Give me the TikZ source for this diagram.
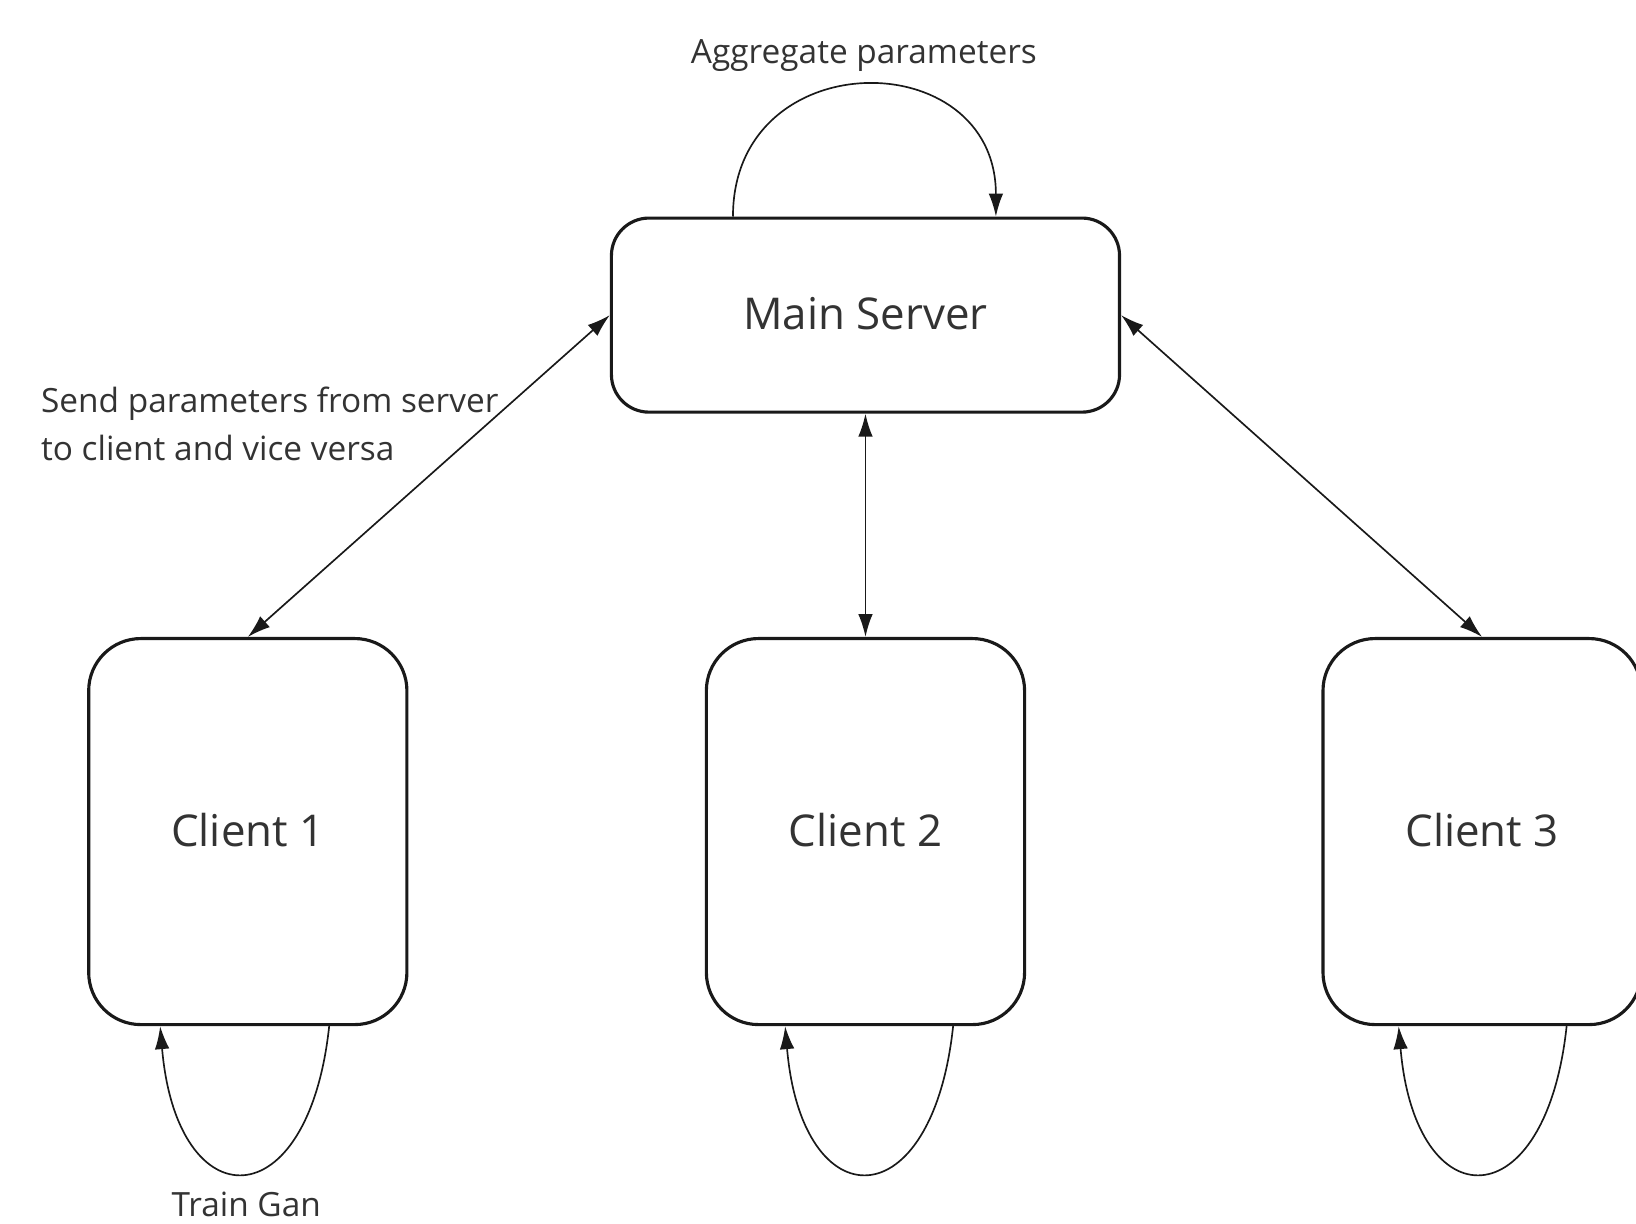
\documentclass[tikz,border=0pt]{standalone}
\usepackage{fontspec}
\setmainfont{Open Sans}
\usetikzlibrary{arrows.meta,calc}
\definecolor{txt}{HTML}{333333}
\begin{document}
\begin{tikzpicture}[x=0.5pt,y=-0.5pt,
  boxnode/.style={draw=black!90,line width=1.5pt,rounded corners=18pt,fill=white,
     text=txt,font=\fontsize{21}{25}\selectfont,inner sep=0pt},
  clientbox/.style={boxnode,minimum width=152.5pt,minimum height=185pt,rounded corners=25pt},
  lbl/.style={text=txt,font=\fontsize{16}{23}\selectfont,inner sep=0pt},
  conn/.style={line width=0.8pt,black!90},
  tip/.style={-{Latex[length=11pt,width=7pt]}},
  dtip/.style={{Latex[length=11pt,width=7pt]}-{Latex[length=11pt,width=7pt]}}]
\useasboundingbox (0,0) rectangle (1568,1173);
\node[boxnode,minimum width=243.5pt,minimum height=93pt] (server) at (829.5,302) {\raisebox{1.5pt}{Main Server}};
\node[clientbox] (c1) at (237.5,797) {\raisebox{2pt}{Client 1}};
\node[clientbox] (c2) at (829.5,797) {\raisebox{2pt}{Client 2}};
\node[clientbox] (c3) at (1420.5,797) {\raisebox{2pt}{Client 3}};

% server self loop
\draw[conn,tip] ([xshift=-127*0.5pt]server.north) .. controls ([xshift=-127*0.5pt,yshift=167*0.5pt]server.north) and ([xshift=125*0.5pt,yshift=167*0.5pt]server.north) .. ([xshift=125*0.5pt]server.north);
\node[lbl] (agg) at (828,53) {Aggregate parameters};

% connections
\draw[conn,dtip] (server.west) -- (c1.north);
\draw[conn,dtip] (server.south) -- (c2.north);
\draw[conn,dtip] (server.east) -- (c3.north);
\node[lbl,align=left,anchor=west] (send) at (39,406) {Send parameters from server\\to client and vice versa};

% client self loops
\foreach \c/\r/\l in {c1/78/84,c2/84/77,c3/81/80}{
  \draw[conn,tip] ([xshift=\r*0.5pt]\c.south) .. controls ([xshift=(\r-20)*0.5pt,yshift=-187*0.5pt]\c.south) and ([xshift=(-\l+16)*0.5pt,yshift=-187*0.5pt]\c.south) .. ([xshift=-\l*0.5pt]\c.south);
}
\node[lbl] (train) at (236,1154) {Train Gan};
\end{tikzpicture}
\end{document}
